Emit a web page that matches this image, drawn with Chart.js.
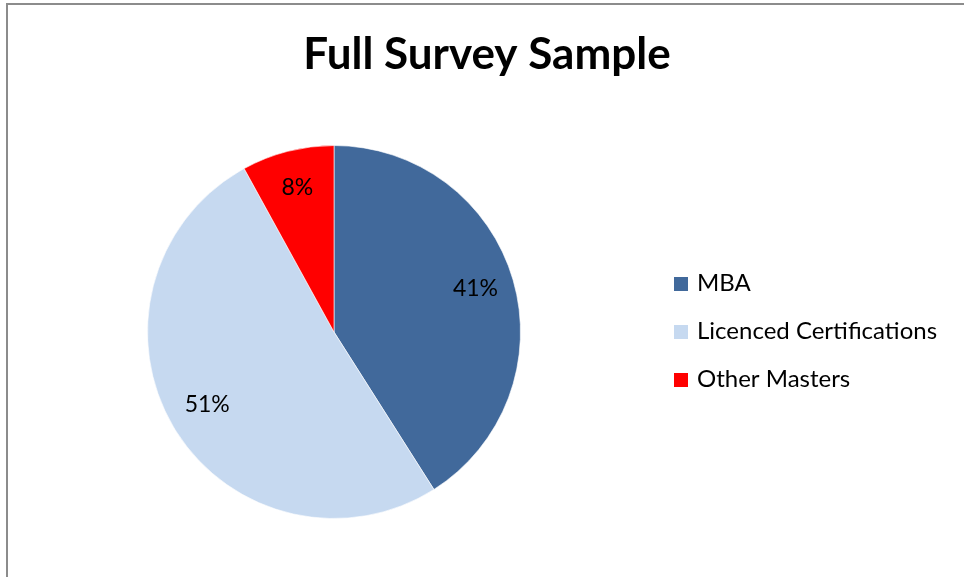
<!DOCTYPE html>
<html>
<head>
<meta charset="utf-8">
<title>Full Survey Sample</title>
<script src="https://cdn.jsdelivr.net/npm/chart.js@4.4.1/dist/chart.umd.min.js"></script>
<style>
  html, body { margin: 0; padding: 0; background: #ffffff; }
  #wrap { position: relative; width: 964px; height: 577px; }
</style>
</head>
<body>
<div id="wrap"><canvas id="surveyChart" width="964" height="577"></canvas></div>
<script>
// Survey share by qualification
const categories = ["MBA", "Licenced Certifications", "Other Masters"];
const shares = [41, 51, 8];
const sliceColors = ["#41699B", "#C6D9F0", "#FF0000"];
const chartTitle = "Full Survey Sample";

const FONT = "Lato, 'Open Sans', sans-serif";

// frame, title, slice percentages and the right-hand legend
const decorPlugin = {
  id: "decor",
  beforeDraw(chart) {
    const ctx = chart.ctx;
    ctx.save();
    ctx.fillStyle = "#ffffff";
    ctx.fillRect(0, 0, chart.width, chart.height);
    ctx.strokeStyle = "#8C8C8C";
    ctx.lineWidth = 2;
    ctx.beginPath();
    ctx.moveTo(7, chart.height + 2);
    ctx.lineTo(7, 4);
    ctx.lineTo(chart.width + 2, 4);
    ctx.stroke();
    ctx.restore();
  },
  afterDraw(chart) {
    const ctx = chart.ctx;
    ctx.save();
    ctx.fillStyle = "#000000";
    ctx.textAlign = "center";
    ctx.textBaseline = "middle";
    ctx.font = "bold 44px " + FONT;
    ctx.fillText(chartTitle, 487, 55);

    // percentage labels inside each slice
    const meta = chart.getDatasetMeta(0);
    const total = shares.reduce((a, b) => a + b, 0);
    ctx.font = "23px " + FONT;
    meta.data.forEach((arc, i) => {
      const p = arc.getProps(["x", "y", "startAngle", "endAngle", "outerRadius"], true);
      const mid = (p.startAngle + p.endAngle) / 2;
      const r = p.outerRadius * 0.79;
      const pct = Math.round((shares[i] / total) * 100) + "%";
      ctx.fillText(pct, p.x + Math.cos(mid) * r, p.y + Math.sin(mid) * r - 2);
    });

    // legend
    ctx.textAlign = "left";
    ctx.font = "24px " + FONT;
    categories.forEach((name, i) => {
      const y = 284 + i * 48;
      ctx.fillStyle = sliceColors[i];
      ctx.fillRect(674, y - 7, 14, 14);
      ctx.fillStyle = "#000000";
      ctx.fillText(name, 697, y - 1);
    });
    ctx.restore();
  }
};

const ctx = document.getElementById("surveyChart").getContext("2d");
new Chart(ctx, {
  type: "pie",
  data: {
    labels: categories,
    datasets: [
      {
        data: shares,
        backgroundColor: sliceColors,
        borderColor: "rgba(255,255,255,0.6)",
        borderWidth: 1,
      },
    ],
  },
  options: {
    responsive: false,
    animation: false,
    layout: {
      padding: { left: 147, right: 443, top: 145, bottom: 58 },
    },
    plugins: {
      legend: { display: false },
      title: { display: false },
      tooltip: { enabled: false },
    },
  },
  plugins: [decorPlugin],
});
</script>
</body>
</html>
